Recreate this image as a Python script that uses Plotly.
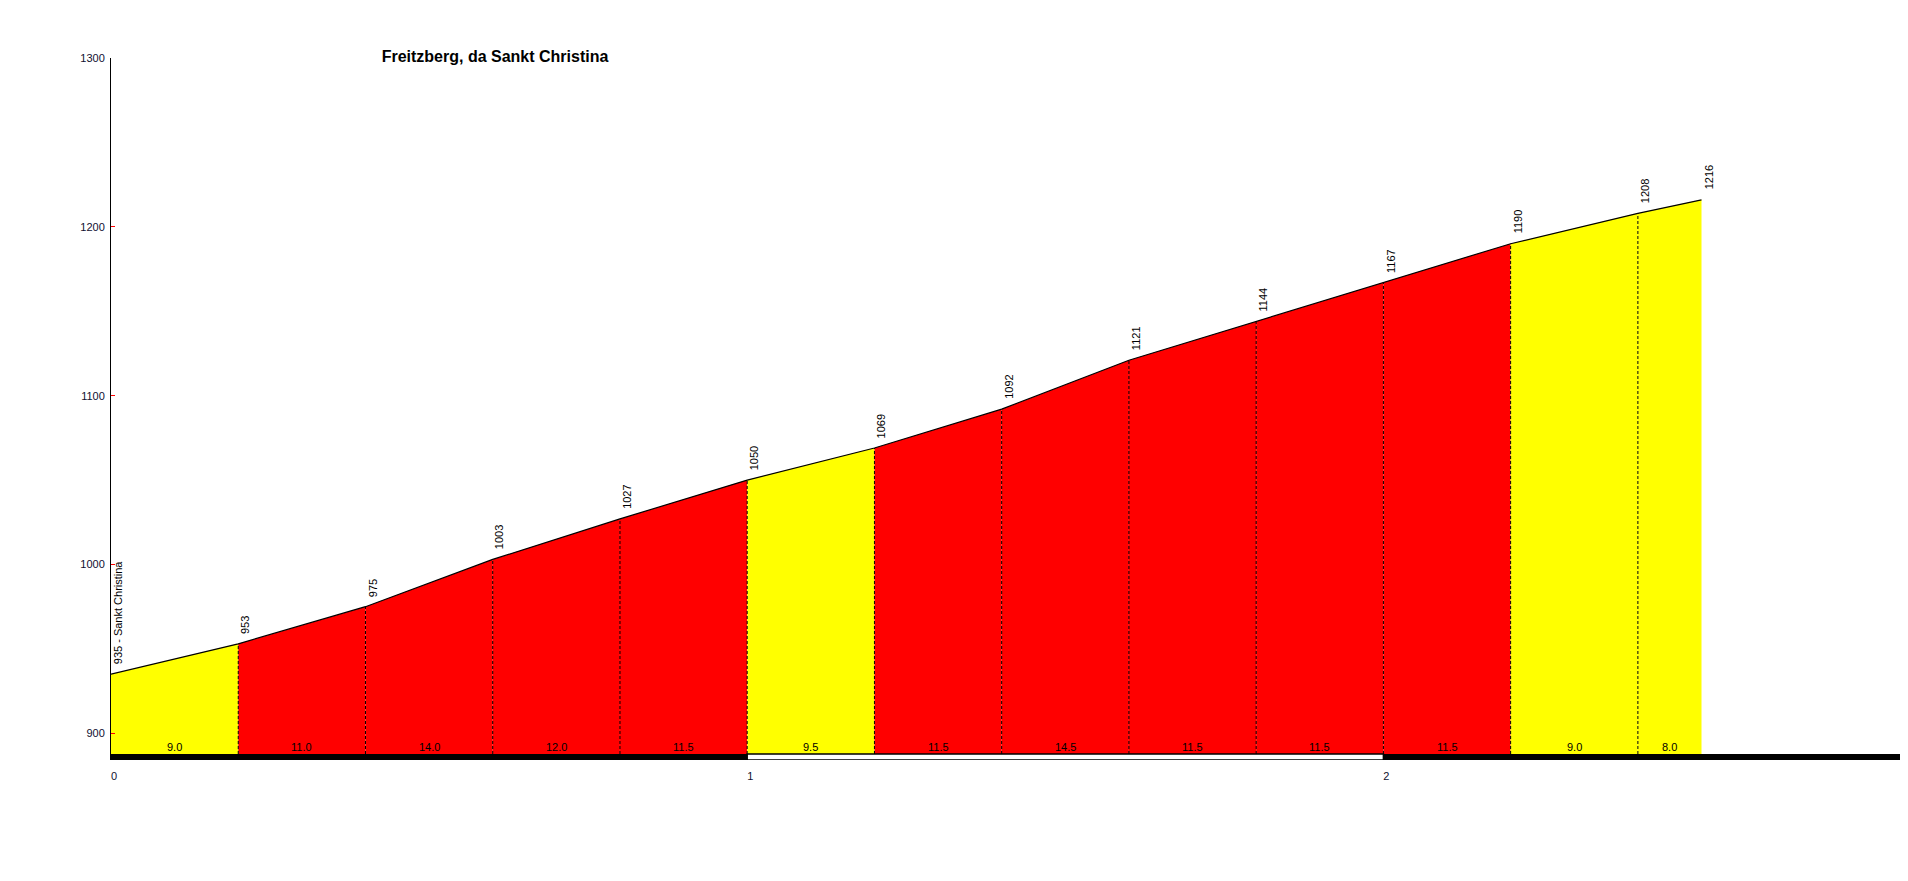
import plotly.graph_objects as go

# ---- data ----
dist_km = [0, 0.2, 0.4, 0.6, 0.8, 1.0, 1.2, 1.4, 1.6, 1.8, 2.0, 2.2, 2.4, 2.5]
elev_m = [935, 953, 975, 1003, 1027, 1050, 1069, 1092, 1121, 1144, 1167, 1190, 1208, 1216]
grade_pct = [9.0, 11.0, 14.0, 12.0, 11.5, 9.5, 11.5, 14.5, 11.5, 11.5, 11.5, 9.0, 8.0]
start_name = "Sankt Christina"
title_text = "Freitzberg, da Sankt Christina"
km_ticks = [0, 1, 2]
elev_ticks = [900, 1000, 1100, 1200, 1300]

# ---- style / layout constants ----
BASE = 887.75
BAR_BOTTOM = 884.2
Y_TOP = 1300
PX_PER_KM = 636.2
RED = "#FF0000"
YELLOW = "#FFFF00"
FONT = "Liberation Sans, Arial, sans-serif"
TXT = "#000000"
W, H = 1908, 850
ML, MT, MB = 103, 50, 98
X_MAX = (W - ML) / PX_PER_KM

fig = go.Figure()

# filled segments
for i, g in enumerate(grade_pct):
    x0, x1 = dist_km[i], dist_km[i + 1]
    e0, e1 = elev_m[i], elev_m[i + 1]
    col = YELLOW if g < 10 else RED
    fig.add_trace(go.Scatter(
        x=[x0, x0, x1, x1, x0], y=[BASE, e0, e1, BASE, BASE],
        mode="lines", fill="toself", fillcolor=col,
        line=dict(width=0, color=col), hoverinfo="skip", showlegend=False))

# dashed separators
for i in range(1, len(dist_km) - 1):
    fig.add_trace(go.Scatter(
        x=[dist_km[i], dist_km[i]], y=[BASE, elev_m[i]], mode="lines",
        line=dict(color="black", width=1, dash="3px,2px"),
        hoverinfo="skip", showlegend=False))

# profile line
fig.add_trace(go.Scatter(x=dist_km, y=elev_m, mode="lines",
                         line=dict(color="black", width=1.2),
                         showlegend=False))

annotations = []
# elevation labels
for i, (d, e) in enumerate(zip(dist_km, elev_m)):
    txt = f"{e} - {start_name}" if i == 0 else str(e)
    annotations.append(dict(
        x=d, y=e, xref="x", yref="y", text=txt, textangle=-90,
        showarrow=False, xanchor="center", yanchor="bottom",
        xshift=7, yshift=8, font=dict(family=FONT, size=11, color=TXT)))

# gradient labels
for i, g in enumerate(grade_pct):
    annotations.append(dict(
        x=(dist_km[i] + dist_km[i + 1]) / 2, y=891.8, xref="x", yref="y",
        text=f"{g:.1f}", showarrow=False, xanchor="center", yanchor="middle",
        font=dict(family=FONT, size=11, color=TXT)))

# kilometre bar
shapes = []
km_edges = km_ticks + [X_MAX]
for k in range(len(km_edges) - 1):
    white = (k % 2 == 1)
    shapes.append(dict(
        type="rect", xref="x", yref="y",
        x0=km_edges[k], x1=km_edges[k + 1], y0=BAR_BOTTOM, y1=BASE,
        fillcolor="white" if white else "black",
        line=dict(color="black", width=1.5 if white else 0), layer="above"))

plot_w = W - ML
fig.update_layout(
    width=W, height=H,
    margin=dict(l=ML, r=0, t=MT, b=MB),
    paper_bgcolor="white", plot_bgcolor="white",
    title=dict(text=title_text, x=(487 - ML) / plot_w, xref="paper",
               xanchor="center", y=1 - 48 / H, yanchor="middle",
               font=dict(family=FONT, size=16, color="black", weight="bold")),
    annotations=annotations, shapes=shapes,
    xaxis=dict(range=[0, X_MAX], tickvals=km_ticks,
               ticktext=[str(k) for k in km_ticks],
               showgrid=False, zeroline=False, showline=False,
               ticks="", ticklabelstandoff=8, ticklabelshift=3,
               tickfont=dict(family=FONT, size=11, color="#101030")),
    yaxis=dict(range=[BAR_BOTTOM, Y_TOP], tickvals=elev_ticks,
               showgrid=False, zeroline=False, showline=True,
               linecolor="black", linewidth=1,
               ticks="inside", ticklen=4, tickcolor="red", tickwidth=1,
               ticklabelstandoff=3,
               tickfont=dict(family=FONT, size=11, color="#101030")),
)

fig.write_html("out.html")
